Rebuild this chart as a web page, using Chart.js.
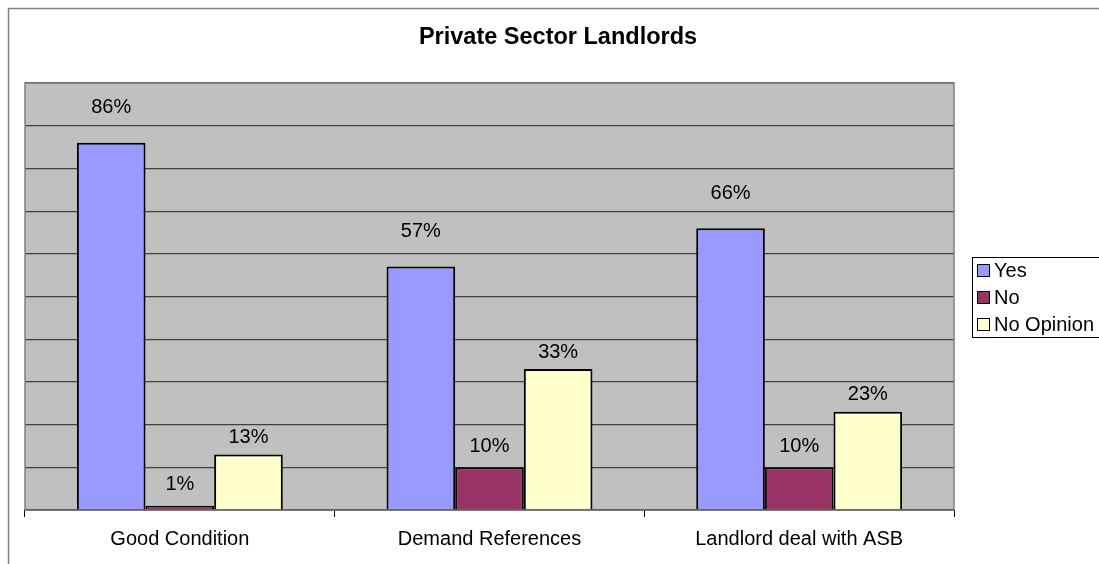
<!DOCTYPE html>
<html>
<head>
<meta charset="utf-8">
<script src="https://cdn.jsdelivr.net/npm/chart.js@4.4.1/dist/chart.umd.min.js"></script>
<style>
  html, body { margin: 0; padding: 0; background: #fff; }
  #wrap { width: 1099px; height: 564px; position: relative; }
</style>
</head>
<body>
<div id="wrap"><canvas id="landlordChart"></canvas></div>
<script>
const chartTitle = 'Private Sector Landlords';
const categories = ['Good Condition', 'Demand References', 'Landlord deal with ASB'];
const seriesNames = ['Yes', 'No', 'No Opinion'];
const yesValues = [86, 57, 66];
const noValues = [1, 10, 10];
const noOpinionValues = [13, 33, 23];
const seriesColors = ['#9999FF', '#993366', '#FFFFCC'];

const FONT = '"Liberation Sans", Arial, sans-serif';
// how far above the bar top each series puts its value label
const labelGap = [35, 21, 17];

// frame, plot background, title, value labels and legend box
const decorations = {
    id: 'decorations',
    beforeDraw(chart) {
        const ctx = chart.ctx;
        const a = chart.chartArea;
        ctx.save();
        ctx.fillStyle = '#C0C0C0';
        ctx.fillRect(a.left, a.top, a.right - a.left, a.bottom - a.top);
        // outer frame (left and top edges visible)
        ctx.strokeStyle = '#808080';
        ctx.lineWidth = 1.5;
        ctx.beginPath();
        ctx.moveTo(8.5, chart.height + 5);
        ctx.lineTo(8.5, 8.5);
        ctx.lineTo(chart.width + 5, 8.5);
        ctx.stroke();
        ctx.restore();
    },
    afterDatasetsDraw(chart) {
        const ctx = chart.ctx;
        const a = chart.chartArea;
        ctx.save();
        // plot border
        ctx.strokeStyle = '#808080';
        ctx.lineWidth = 1.5;
        ctx.strokeRect(a.left, a.top, a.right - a.left, a.bottom - a.top);

        // value labels above each bar
        ctx.fillStyle = '#000';
        ctx.font = '20px ' + FONT;
        ctx.textAlign = 'center';
        ctx.textBaseline = 'middle';
        chart.data.datasets.forEach((ds, i) => {
            chart.getDatasetMeta(i).data.forEach((bar, j) => {
                ctx.fillText(ds.data[j] + '%', bar.x, bar.y - labelGap[i]);
            });
        });

        // title
        ctx.font = 'bold 23.5px ' + FONT;
        ctx.fillText(chartTitle, 558, 38);

        // legend
        const lx = 972, ly = 257;
        ctx.fillStyle = '#fff';
        ctx.fillRect(lx, ly, 140, 80);
        ctx.strokeStyle = '#000';
        ctx.lineWidth = 1;
        ctx.strokeRect(lx + 0.5, ly + 0.5, 140, 80);
        ctx.font = '20px ' + FONT;
        ctx.textAlign = 'left';
        chart.data.datasets.forEach((ds, i) => {
            const cy = ly + 13 + i * 27;
            ctx.fillStyle = ds.backgroundColor;
            ctx.fillRect(lx + 5, cy - 6, 12, 12);
            ctx.strokeStyle = '#000';
            ctx.strokeRect(lx + 5.5, cy - 5.5, 12, 12);
            ctx.fillStyle = '#000';
            ctx.fillText(ds.label, lx + 22, cy + 1);
        });
        ctx.restore();
    }
};

const ctx = document.getElementById('landlordChart').getContext('2d');
new Chart(ctx, {
    type: 'bar',
    data: {
        labels: categories,
        datasets: [yesValues, noValues, noOpinionValues].map((vals, i) => ({
            label: seriesNames[i],
            data: vals,
            backgroundColor: seriesColors[i],
            borderColor: '#000',
            borderWidth: 2,
            categoryPercentage: 0.665,
            barPercentage: 1.0
        }))
    },
    options: {
        responsive: true,
        maintainAspectRatio: false,
        animation: false,
        layout: { padding: { top: 83, left: 25, right: 145, bottom: 3 } },
        scales: {
            x: {
                grid: { drawOnChartArea: false, drawTicks: true, tickLength: 7, color: '#000', offset: true },
                border: { display: true, color: '#000', width: 1.5 },
                ticks: { color: '#000', font: { size: 20, family: FONT }, padding: 10 }
            },
            y: {
                min: 0,
                max: 100,
                ticks: { display: false, stepSize: 10 },
                grid: { color: '#404040', lineWidth: 1.2, drawTicks: false },
                border: { display: false }
            }
        },
        plugins: {
            legend: { display: false },
            title: { display: false },
            tooltip: { enabled: false }
        }
    },
    plugins: [decorations]
});
</script>
</body>
</html>
